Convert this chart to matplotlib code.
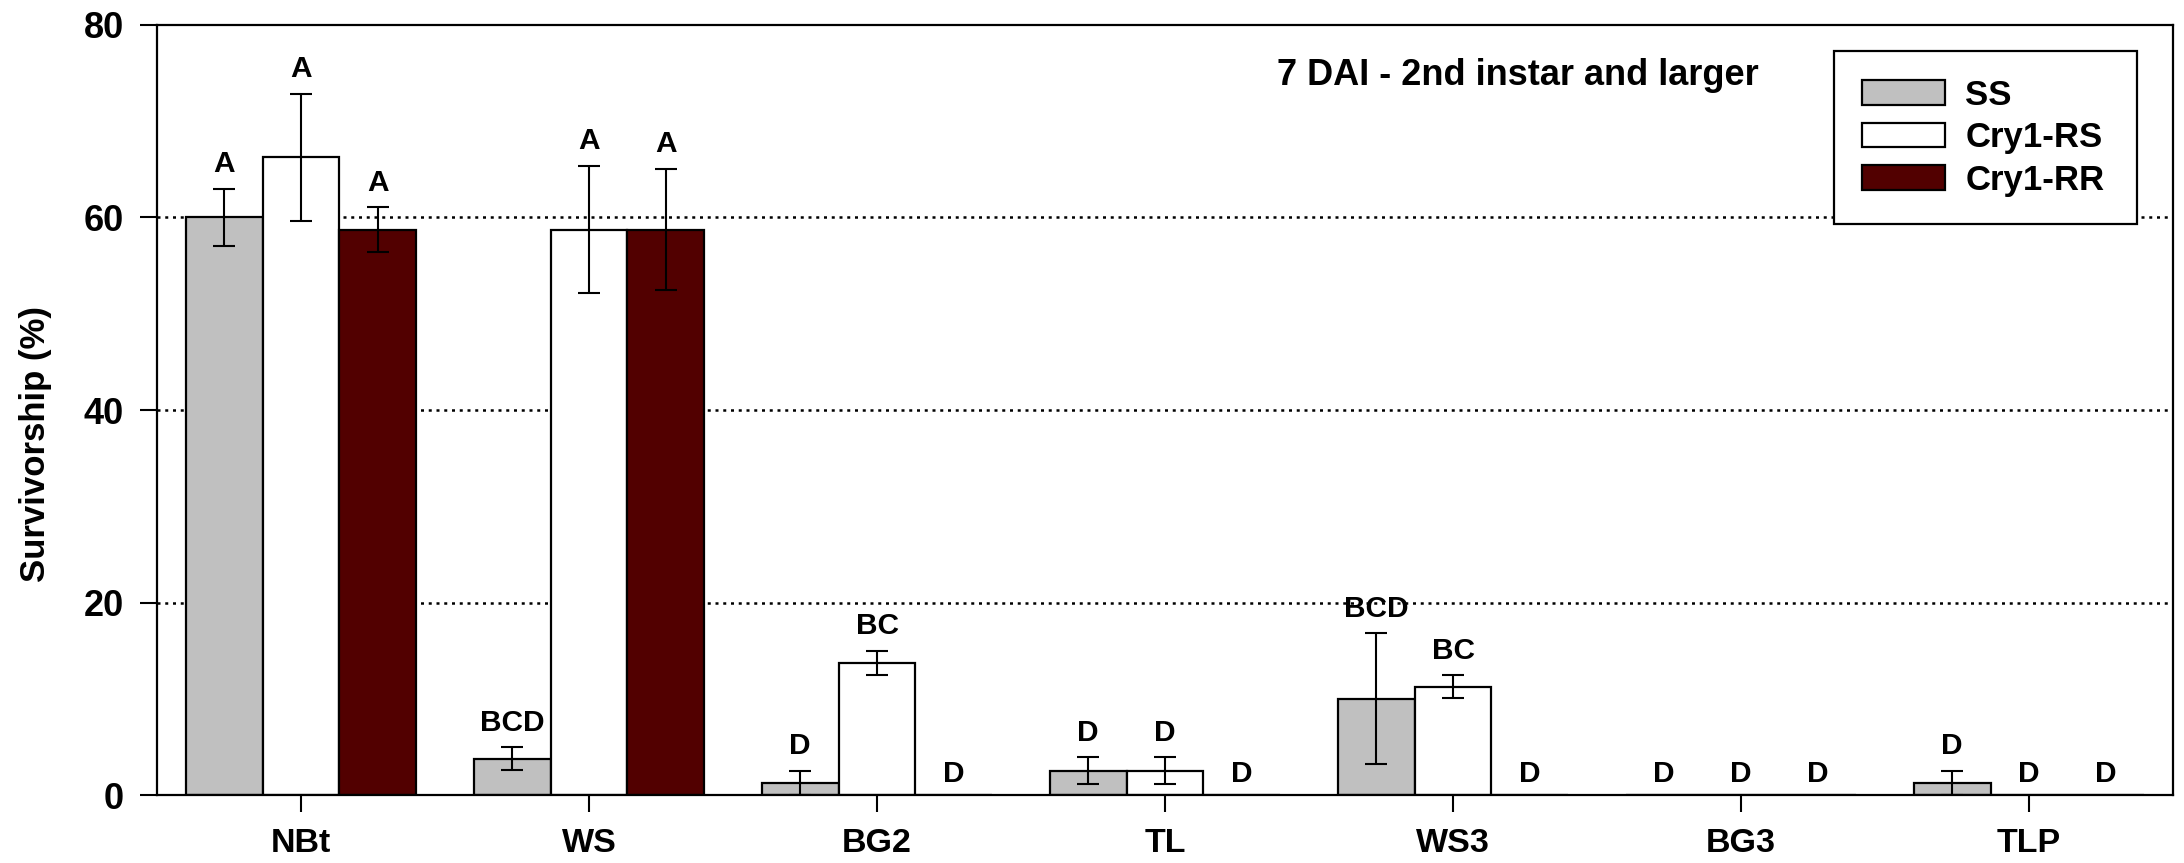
import matplotlib
matplotlib.use("Agg")
import matplotlib.pyplot as plt
import numpy as np
from matplotlib.patches import Patch

categories = ["NBt", "WS", "BG2", "TL", "WS3", "BG3", "TLP"]
series = ["SS", "Cry1-RS", "Cry1-RR"]
ss_vals = [60.0, 3.75, 1.25, 2.5, 10.0, 0.0, 1.25]
ss_err = [3.0, 1.2, 1.25, 1.4, 6.8, 0.0, 1.25]
rs_vals = [66.25, 58.75, 13.75, 2.5, 11.25, 0.0, 0.0]
rs_err = [6.6, 6.6, 1.25, 1.4, 1.2, 0.0, 0.0]
rr_vals = [58.75, 58.75, 0.0, 0.0, 0.0, 0.0, 0.0]
rr_err = [2.3, 6.3, 0.0, 0.0, 0.0, 0.0, 0.0]
ss_letters = ["A", "BCD", "D", "D", "BCD", "D", "D"]
rs_letters = ["A", "A", "BC", "D", "BC", "D", "D"]
rr_letters = ["A", "A", "D", "D", "D", "D", "D"]
title_text = "7 DAI - 2nd instar and larger"
ylabel_text = "Survivorship (%)"
yticks = [0, 20, 40, 60, 80]

colors = ["#c0c0c0", "#ffffff", "#520000"]

W, H = 2184, 863
AX_L, AX_R, AX_T, AX_B = 157, 2173, 25, 795
fig = plt.figure(figsize=(W / 100, H / 100), dpi=100)
ax = fig.add_axes([AX_L / W, 1 - AX_B / H, (AX_R - AX_L) / W, (AX_B - AX_T) / H])

fam = ["Liberation Sans", "DejaVu Sans"]

x = np.arange(len(categories))
bw = 0.8 / 3
vals = [ss_vals, rs_vals, rr_vals]
errs = [ss_err, rs_err, rr_err]
letters = [ss_letters, rs_letters, rr_letters]

for gl in [20, 40, 60]:
    ax.axhline(gl, color="black", linestyle=(0, (1.2, 1.9)), linewidth=1.8, zorder=0.5)

for i in range(3):
    xs = x + (i - 1) * bw
    v = np.array(vals[i])
    e = np.array(errs[i])
    ax.bar(xs, v, width=bw, color=colors[i], edgecolor="black", linewidth=1.6, zorder=2)
    mask = e > 0
    ax.errorbar(xs[mask], v[mask], yerr=e[mask], fmt="none", ecolor="black",
                elinewidth=1.5, capsize=8, capthick=1.5, zorder=3)
    for xi, vi, ei, lab in zip(xs, v, e, letters[i]):
        if vi > 0:
            y = vi + ei + 1.1
        else:
            y = 0.7
        ax.text(xi, y, lab, ha="center", va="bottom", fontsize=21.5,
                fontweight="bold", family=fam, zorder=4)

ax.set_xlim(-0.5, len(categories) - 0.5)
ax.set_ylim(0, 80)
ax.set_yticks(yticks)
ax.set_yticklabels([str(t) for t in yticks], fontsize=26, fontweight="bold", family=fam)
ax.set_xticks(x)
ax.set_xticklabels(categories, fontsize=24.5, fontweight="bold", family=fam)
ax.tick_params(axis="both", direction="out", length=12, width=1.5)
ax.tick_params(axis="y", pad=12)
ax.tick_params(axis="x", pad=12)
for s in ax.spines.values():
    s.set_linewidth(1.6)

ax.set_ylabel(ylabel_text, fontsize=25, fontweight="bold", family=fam)
ax.yaxis.set_label_coords((52 - AX_L) / (AX_R - AX_L), 1 - (444 - AX_T) / (AX_B - AX_T))

fig.text(1277 / W, 1 - 85 / H, title_text, ha="left", va="baseline",
         fontsize=26, fontweight="bold", family=fam)

handles = [Patch(facecolor=c, edgecolor="black", linewidth=1.6) for c in colors]
lx0 = (1834 - AX_L) / (AX_R - AX_L)
lx1 = (2137 - AX_L) / (AX_R - AX_L)
ly1 = (AX_B - 51) / (AX_B - AX_T)
leg = ax.legend(handles, series, loc="upper left", mode="expand",
                bbox_to_anchor=(lx0, ly1 - 0.3, lx1 - lx0, 0.3),
                frameon=True, fancybox=False, edgecolor="black", framealpha=1,
                prop={"family": fam, "weight": "bold", "size": 25},
                handlelength=2.4, handleheight=0.7, borderpad=0.8, labelspacing=0.27,
                handletextpad=0.58, borderaxespad=0)
leg.get_frame().set_linewidth(1.6)
leg.set_zorder(5)

fig.savefig("out.png", dpi=100)
